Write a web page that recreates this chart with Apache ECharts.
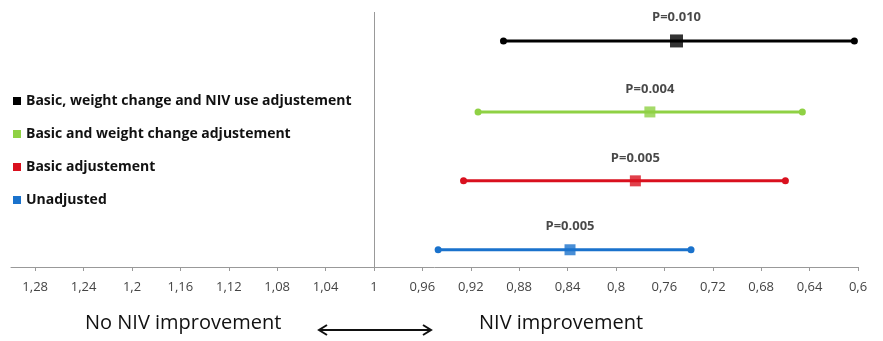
<!DOCTYPE html>
<html>
<head>
<meta charset="utf-8">
<script src="https://cdn.jsdelivr.net/npm/echarts@6/dist/echarts.min.js"></script>
<style>html,body{margin:0;padding:0;background:#fff}#c{width:883px;height:341px}</style>
</head>
<body>
<div id="c"></div>
<script>
// Data
var names = ['Basic, weight change and NIV use adjustement', 'Basic and weight change adjustement', 'Basic adjustement', 'Unadjusted'];
var estimates = [0.75, 0.772, 0.784, 0.838];
var lowerCI = [0.603, 0.646, 0.660, 0.738];
var upperCI = [0.893, 0.914, 0.926, 0.947];
var rowY = [3.28, 2.25, 1.25, 0.25];
var pValues = ['P=0.010', 'P=0.004', 'P=0.005', 'P=0.005'];
var colors = ['#000000', '#8fd144', '#d9101e', '#1a72cc'];
var tickValues = [1.28, 1.24, 1.2, 1.16, 1.12, 1.08, 1.04, 1, 0.96, 0.92, 0.88, 0.84, 0.8, 0.76, 0.72, 0.68, 0.64, 0.6];

var chart = echarts.init(document.getElementById('c'));
var series = [];
for (var i = 0; i < names.length; i++) {
  series.push({
    name: names[i],
    type: 'line',
    data: [[upperCI[i], rowY[i]], [lowerCI[i], rowY[i]]],
    symbol: 'circle',
    symbolSize: 7,
    lineStyle: {color: colors[i], width: 3},
    itemStyle: {color: colors[i]},
    z: 2,
    animation: false,
    markLine: i === 0 ? {
      symbol: 'none', silent: true, animation: false,
      label: {show: false},
      lineStyle: {color: '#999999', type: 'solid', width: 1},
      data: [{xAxis: 1}]
    } : undefined
  });
  series.push({
    name: names[i],
    type: 'scatter',
    data: [[estimates[i], rowY[i]]],
    symbol: 'rect',
    symbolSize: i === 0 ? 13 : 11,
    itemStyle: {color: colors[i]},
    z: 3,
    animation: false,
    label: {
      show: true, position: 'top', distance: 11,
      formatter: pValues[i],
      fontFamily: 'Open Sans', fontWeight: 'bold', fontSize: 13, color: '#1a1a1a'
    }
  });
}

chart.setOption({
  animation: false,
  grid: {left: 11, right: 25, top: 12, bottom: 74},
  legend: {
    data: names,
    orient: 'vertical',
    left: 8, top: 89,
    icon: 'rect', itemWidth: 8, itemHeight: 8, itemGap: 19,
    textStyle: {fontFamily: 'Open Sans', fontWeight: 'bold', fontSize: 14, color: '#111'}
  },
  xAxis: {
    type: 'value',
    inverse: true,
    min: 0.6, max: 1.3,
    splitLine: {show: false},
    axisLine: {show: true, lineStyle: {color: '#999999', width: 1}},
    axisTick: {show: true, length: 4, customValues: tickValues, lineStyle: {color: '#999999'}},
    axisLabel: {
      customValues: tickValues,
      margin: 14,
      fontFamily: 'Open Sans', fontSize: 13, color: '#444',
      formatter: function (v) { return String(Math.round(v * 100) / 100).replace('.', ','); }
    }
  },
  yAxis: {type: 'value', min: 0, max: 3.7, show: false},
  graphic: [
    {type: 'text', left: 85, top: 313, style: {text: 'No NIV improvement', fontFamily: 'Open Sans', fontSize: 20, fill: '#111'}},
    {type: 'text', left: 479, top: 313, style: {text: 'NIV improvement', fontFamily: 'Open Sans', fontSize: 20, fill: '#111'}},
    {type: 'line', shape: {x1: 319, y1: 330, x2: 431, y2: 330}, style: {stroke: '#111', lineWidth: 2}},
    {type: 'polyline', shape: {points: [[327, 325], [319, 330], [327, 335]]}, style: {stroke: '#111', lineWidth: 2, fill: null}},
    {type: 'polyline', shape: {points: [[423, 325], [431, 330], [423, 335]]}, style: {stroke: '#111', lineWidth: 2, fill: null}}
  ],
  series: series
});
</script>
</body>
</html>
